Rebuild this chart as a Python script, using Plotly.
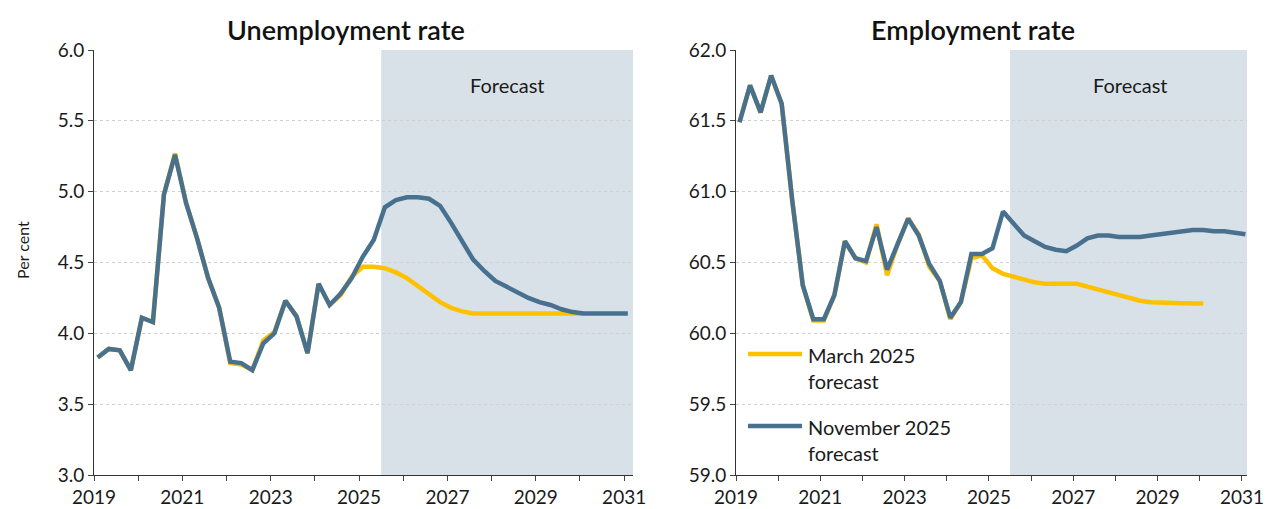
import plotly.graph_objects as go

# ---------------- data ----------------
quarters = [f"{y}Q{q}" for y in range(2019, 2032) for q in range(1, 5)][:49]  # 2019Q1 .. 2031Q1


def qpos(label):
    year = int(label[:4])
    q = int(label[-1])
    return year + (3 * q - 2) / 12.0  # mid-quarter month


unemp_nov = [3.83, 3.89, 3.88, 3.74, 4.11, 4.08, 4.98, 5.26, 4.92, 4.67,
             4.39, 4.18, 3.80, 3.79, 3.74, 3.93, 4.00, 4.23, 4.12, 3.86,
             4.35, 4.20, 4.28, 4.39, 4.54, 4.66, 4.89, 4.94, 4.96, 4.96,
             4.95, 4.90, 4.78, 4.65, 4.52, 4.44, 4.37, 4.33, 4.29, 4.25,
             4.22, 4.20, 4.17, 4.15, 4.14, 4.14, 4.14, 4.14, 4.14]
unemp_mar = [3.83, 3.89, 3.88, 3.74, 4.11, 4.08, 4.98, 5.27, 4.92, 4.67,
             4.39, 4.18, 3.79, 3.78, 3.74, 3.95, 4.01, 4.23, 4.12, 3.86,
             4.35, 4.20, 4.27, 4.40, 4.47, 4.47, 4.46, 4.43, 4.39, 4.33,
             4.27, 4.22, 4.18, 4.155, 4.14, 4.14, 4.14, 4.14, 4.14, 4.14,
             4.14, 4.14, 4.14, 4.14, 4.14]

emp_nov = [61.49, 61.75, 61.56, 61.82, 61.62, 60.94, 60.34, 60.10, 60.10, 60.27,
           60.65, 60.53, 60.51, 60.75, 60.45, 60.63, 60.81, 60.69, 60.49, 60.37,
           60.11, 60.22, 60.56, 60.56, 60.60, 60.86, 60.77, 60.69, 60.65, 60.61,
           60.59, 60.58, 60.62, 60.67, 60.69, 60.69, 60.68, 60.68, 60.68, 60.69,
           60.70, 60.71, 60.72, 60.73, 60.73, 60.72, 60.72, 60.71, 60.70]
emp_mar = [61.49, 61.75, 61.56, 61.82, 61.62, 60.94, 60.34, 60.09, 60.09, 60.27,
           60.65, 60.53, 60.50, 60.77, 60.41, 60.63, 60.81, 60.70, 60.47, 60.37,
           60.10, 60.22, 60.53, 60.55, 60.46, 60.42, 60.40, 60.38, 60.36, 60.35,
           60.35, 60.35, 60.35, 60.33, 60.31, 60.29, 60.27, 60.25, 60.23, 60.22,
           60.215, 60.213, 60.213, 60.21, 60.21]

year_ticks = list(range(2019, 2032))
year_labels = [str(y) if y % 2 == 1 else "" for y in year_ticks]

titles = ["Unemployment rate", "Employment rate"]
series_names = ["March 2025<br>forecast", "November 2025<br>forecast"]
forecast_start = 2025.5

# ---------------- style ----------------
YELLOW = "#FFC000"
BLUE = "#48718F"
SHADE = "#D9E1E8"
FONT = "Lato"
TXT = "#1a1a1a"
W, H = 1266, 509
MT, MB = 50, 34

x_all = [qpos(q) for q in quarters]

fig = go.Figure()

panels = [
    (unemp_mar, unemp_nov, "x", "y"),
    (emp_mar, emp_nov, "x2", "y2"),
]
for mar, nov, xa, ya in panels:
    fig.add_trace(go.Scatter(x=x_all[:len(mar)], y=mar, mode="lines", xaxis=xa, yaxis=ya,
                             line=dict(color=YELLOW, width=4.5), showlegend=False,
                             hoverinfo="skip"))
    fig.add_trace(go.Scatter(x=x_all[:len(nov)], y=nov, mode="lines", xaxis=xa, yaxis=ya,
                             line=dict(color=BLUE, width=4.5), showlegend=False,
                             hoverinfo="skip"))

xcommon = dict(tickvals=year_ticks, ticktext=year_labels, ticks="outside", ticklen=5,
               tickcolor="#444", showline=True, linecolor="#333", linewidth=1,
               showgrid=False, zeroline=False, tickfont=dict(family=FONT, size=19, color=TXT),
               fixedrange=True)
ycommon = dict(dtick=0.5, tickformat=".1f", ticks="outside", ticklen=5, tickcolor="#444",
               showline=True, linecolor="#333", linewidth=1, showgrid=True,
               gridcolor="#D0D0D0", griddash="dot", gridwidth=1, zeroline=False,
               tickfont=dict(family=FONT, size=19, color=TXT), domain=[0, 1],
               fixedrange=True)

fig.update_layout(
    width=W, height=H,
    margin=dict(l=0, r=0, t=MT, b=MB, autoexpand=False),
    paper_bgcolor="white", plot_bgcolor="white",
    xaxis=dict(domain=[94 / W, 633 / W], range=[2019, 2031.2], anchor="y", **xcommon),
    yaxis=dict(range=[3, 6], anchor="x", **ycommon),
    xaxis2=dict(domain=[736 / W, 1247 / W], range=[2019, 2031.12], anchor="y2", **xcommon),
    yaxis2=dict(range=[59, 62], anchor="x2", **ycommon),
    showlegend=False,
)

# forecast shading
for xa, ya in [("x", "y"), ("x2", "y2")]:
    fig.add_shape(type="rect", xref=xa, yref=f"{ya} domain", x0=forecast_start,
                  x1=2031.3, y0=0, y1=1, fillcolor=SHADE, line=dict(width=0),
                  layer="below")

ph = H - MT - MB
def py(px):
    return (H - MB - px) / ph

# "Forecast" labels
for xa, ya, yv in [("x", "y", 5.75), ("x2", "y2", 61.75)]:
    fig.add_annotation(x=2028.35, y=yv, xref=xa, yref=ya, text="Forecast",
                       showarrow=False, xanchor="center",
                       font=dict(family=FONT, size=20, color=TXT))

# titles
for xc, t in [(346 / W, titles[0]), (973 / W, titles[1])]:
    fig.add_annotation(x=xc, y=py(30), xref="paper", yref="paper", text=t,
                       showarrow=False, xanchor="center", yanchor="middle",
                       font=dict(family=FONT, size=27, color="#111", weight=600))

# y-axis label
fig.add_annotation(x=22 / W, y=py(250), xref="paper", yref="paper", text="Per cent",
                   textangle=-90, showarrow=False, xanchor="center", yanchor="middle",
                   font=dict(family=FONT, size=16, color=TXT))

# legend (manual, inside right panel)
for color, name, ly in [(YELLOW, series_names[0], 354), (BLUE, series_names[1], 426)]:
    fig.add_shape(type="line", xref="paper", yref="paper", x0=748 / W, x1=802 / W,
                  y0=py(ly), y1=py(ly), line=dict(color=color, width=4.5), layer="above")
    fig.add_annotation(x=806 / W, y=py(ly - 13), xref="paper", yref="paper", text=name,
                       showarrow=False, xanchor="left", yanchor="top", align="left",
                       font=dict(family=FONT, size=20, color=TXT))

fig.write_html("out.html", config={"displayModeBar": False},
               post_script="document.body.style.margin='0px';")
